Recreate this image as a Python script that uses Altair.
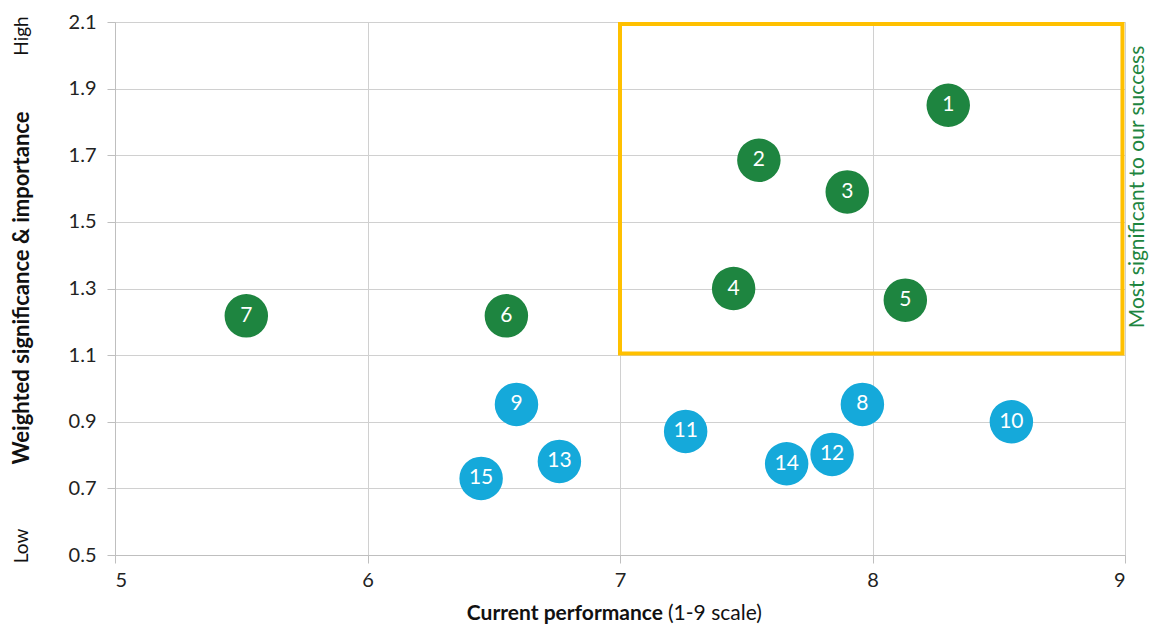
import altair as alt
import pandas as pd

# data
ids = [str(i) for i in range(1, 16)]
performance = [8.30, 7.55, 7.90, 7.45, 8.13, 6.55, 5.52, 7.96, 6.59, 8.55, 7.26, 7.84, 6.76, 7.66, 6.45]
importance = [1.85, 1.685, 1.59, 1.30, 1.265, 1.218, 1.218, 0.952, 0.952, 0.90, 0.871, 0.802, 0.781, 0.774, 0.730]
groups = ["top"] * 7 + ["other"] * 8

box_x = [7.0]
box_x2 = [8.99]
box_y = [1.105]
box_y2 = [2.094]

x_ticks = [5, 6, 7, 8, 9]
y_ticks = [0.5, 0.7, 0.9, 1.1, 1.3, 1.5, 1.7, 1.9, 2.1]

GREEN = "#1E8540"
BLUE = "#15A9DA"
GOLD = "#FFC000"
FONT = "Lato"

df = pd.DataFrame({"id": ids, "perf": performance, "imp": importance, "group": groups})
box = pd.DataFrame({"x": box_x, "x2": box_x2, "y": box_y, "y2": box_y2})

xs = alt.Scale(domain=[5, 9], nice=False, zero=False)
ys = alt.Scale(domain=[0.5, 2.1], nice=False, zero=False)

base = alt.Chart(df)

points = base.mark_circle(size=1890, opacity=1).encode(
    x=alt.X("perf:Q", scale=xs, axis=alt.Axis(values=x_ticks, format="d", title=None, grid=True,
                                                labelFontSize=20, labelColor="#222", tickSize=8,
                                                labelPadding=7, tickColor="#BFBFBF", domainColor="#BFBFBF",
                                                gridColor="#D0D0D0", labelFont=FONT)),
    y=alt.Y("imp:Q", scale=ys, axis=alt.Axis(values=y_ticks, format=".1f", title=None, grid=True,
                                               labelFontSize=20, labelColor="#222", tickSize=8,
                                               labelPadding=11, tickColor="#BFBFBF", domainColor="#BFBFBF",
                                               gridColor="#D0D0D0", labelFont=FONT)),
    color=alt.Color("group:N", scale=alt.Scale(domain=["top", "other"], range=[GREEN, BLUE]), legend=None),
)

labels = base.mark_text(color="white", fontSize=21, font=FONT, baseline="middle", align="center").encode(
    x=alt.X("perf:Q", scale=xs),
    y=alt.Y("imp:Q", scale=ys),
    text="id:N",
)

rect = alt.Chart(box).mark_rect(fill=None, stroke=GOLD, strokeWidth=4, fillOpacity=0).encode(
    x=alt.X("x:Q", scale=xs), x2="x2", y=alt.Y("y:Q", scale=ys), y2="y2"
)

one = pd.DataFrame({"a": [0]})

def note(text, x, y, size=18, bold=False, color="#111", angle=0, align="center"):
    kw = dict(text=text, fontSize=size, font=FONT, color=color, align=align, baseline="middle")
    if bold:
        kw["fontWeight"] = "bold"
    if angle:
        kw["angle"] = angle
    return alt.Chart(one).mark_text(**kw).encode(x=alt.value(x), y=alt.value(y))

notes = [
    note("Weighted significance & importance", -93, 266, size=22, bold=True, angle=270),
    note("High", -93, 14, size=19, angle=270),
    note("Low", -93, 524, size=19, angle=270),
    note("Most significant to our success", 1023, 165, size=21, color=GREEN, angle=270),
    note("Current performance", 548, 592, size=21, bold=True, align="right"),
    note("(1-9 scale)", 553, 592, size=21, align="left"),
]

chart = alt.layer(rect, points, labels, *notes).properties(
    width=1010, height=533,
    autosize=alt.AutoSizeParams(type="none"),
    padding={"left": 107, "top": 14, "right": 27, "bottom": 72},
).configure_view(stroke=None).configure(background="white")

chart.save("out.html", embed_options={"renderer": "svg", "actions": False})
